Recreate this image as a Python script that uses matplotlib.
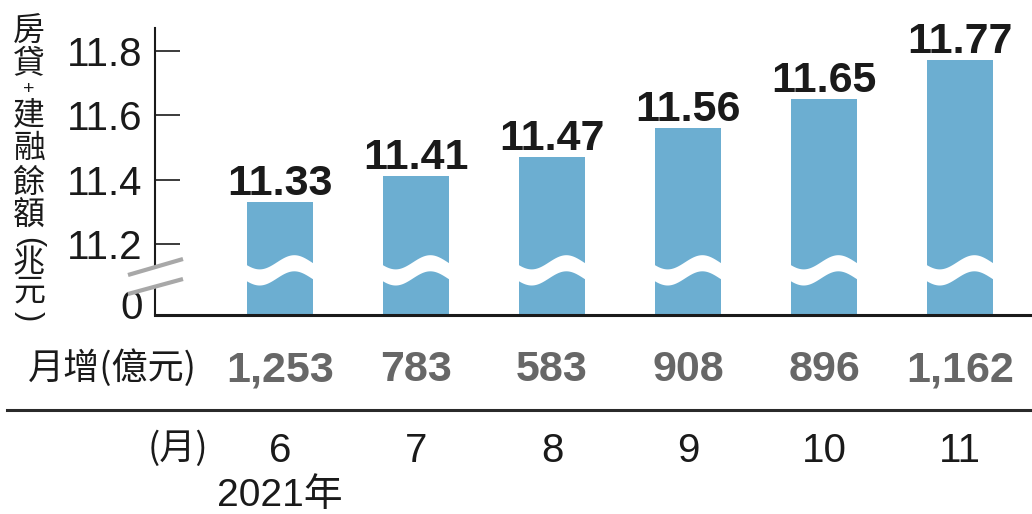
import numpy as np
import matplotlib
matplotlib.use("Agg")
import matplotlib.pyplot as plt
from matplotlib import transforms
from matplotlib.lines import Line2D
from matplotlib.patches import Polygon

# ---- data ----
months = ["6", "7", "8", "9", "10", "11"]
balance = [11.33, 11.41, 11.47, 11.56, 11.65, 11.77]      # 兆元
monthly_inc = [1253, 783, 583, 908, 896, 1162]             # 億元
yticks = [11.2, 11.4, 11.6, 11.8]

BAR = "#6caed1"
INK = "#1a1a1a"
CJK = ["Noto Sans CJK TC", "DejaVu Sans"]
NUM = ["Liberation Sans", "Noto Sans CJK TC"]

base = 10.98   # value drawn at the "0" line of the broken axis
W, H = 1032, 514


def px(x, y):
    # figure pixel (from top-left) -> figure fraction
    return x / W, 1 - y / H


fig = plt.figure(figsize=(W / 100, H / 100), dpi=100)
ax = fig.add_axes([155 / W, 1 - 315 / H, (W - 155) / W, (315 - 28) / H])

x = np.arange(len(months))
ax.bar(x, balance, width=0.49, color=BAR, zorder=2)
ax.set_xlim(-0.919, 5.529)
ax.set_ylim(base, 11.87)

# wavy white cut through each bar
t = np.linspace(0, 1, 80)
wc, wa, wh = 11.12, 0.022, 0.025
for xi in x:
    xs = xi - 0.255 + 0.51 * t
    yc = wc - wa * np.sin(2 * np.pi * (t + 0.05))
    ax.fill_between(xs, yc - wh, yc + wh, color="white", lw=0, zorder=3)

# value labels
for xi, v in zip(x, balance):
    ax.annotate(f"{v:.2f}", (xi, v), xytext=(0, 5), textcoords="offset points",
                ha="center", va="baseline", fontsize=31, fontweight="bold",
                family=NUM, color=INK, annotation_clip=False)

# axes styling
for s in ("top", "right"):
    ax.spines[s].set_visible(False)
ax.spines["left"].set_linewidth(1.5)
ax.spines["bottom"].set_linewidth(2.2)
ax.spines["left"].set_color(INK)
ax.spines["bottom"].set_color(INK)
ax.set_xticks([])
ax.set_yticks(yticks)
ax.set_yticklabels([f"{v:.1f}" for v in yticks])
ax.tick_params(axis="y", direction="in", length=18, width=1.2, pad=9,
               labelsize=29, colors=INK)
for lab in ax.get_yticklabels():
    lab.set_family(NUM)
ax.annotate("0", xy=(0, base), xycoords=("axes fraction", "data"),
            xytext=(-9, 5), textcoords="offset points", ha="right", va="center",
            fontsize=29, family=NUM, color=INK)

# axis break marks
fig.add_artist(Polygon([px(128, 275), px(183, 259), px(183, 279), px(128, 294)],
                       closed=True, transform=fig.transFigure, color="white",
                       lw=0, zorder=5))
for y0, y1 in [(275, 259), (294, 279)]:
    fig.add_artist(Line2D(*zip(px(128, y0), px(183, y1)), transform=fig.transFigure,
                          color="#a8a8a8", lw=3, solid_capstyle="butt", zorder=6))

# y label, written vertically (brackets turned sideways)
ylab_chars = ["房", "貸", "+", "建", "融", "餘", "額", "(", "兆", "元", ")"]
ylab_y = [32, 63, 89, 115, 148, 183, 215, 242, 262, 292, 316]
for ch, yy in zip(ylab_chars, ylab_y):
    if ch in "()":
        fig.text(*px(29, yy), ch, ha="center", va="center", rotation=270,
                 rotation_mode="anchor", fontsize=22, family=NUM, color=INK)
    elif ch == "+":
        fig.text(*px(29, yy), ch, ha="center", va="center",
                 fontsize=14, family=NUM, color=INK)
    else:
        fig.text(*px(29, yy), ch, ha="center", va="center",
                 fontsize=23, family=CJK, color=INK)

# monthly increase row
row = transforms.blended_transform_factory(ax.transData, fig.transFigure)
fig.text(*px(28, 368), "月增(億元)", ha="left", va="center", fontsize=26,
         family=CJK, color=INK)
for xi, v in zip(x, monthly_inc):
    ax.text(xi, 1 - 381 / H, f"{v:,}", transform=row, ha="center",
            va="baseline", fontsize=31, fontweight="bold", color="#676767",
            family=NUM)

fig.add_artist(Line2D(*zip(px(7, 410), px(W, 410)), transform=fig.transFigure,
                      color="#2a2a2a", lw=2.2))

# month row
fig.text(*px(208, 449), "(月)", ha="right", va="center", fontsize=26,
         family=CJK, color=INK)
for xi, m in zip(x, months):
    ax.text(xi, 1 - 462 / H, m, transform=row, ha="center", va="baseline",
            fontsize=29, family=NUM, color=INK)
ax.text(x[0], 1 - 506 / H, "2021年", transform=row, ha="center", va="baseline",
        fontsize=28, family=NUM, color=INK)

fig.savefig("out.png", dpi=100, facecolor="white")
